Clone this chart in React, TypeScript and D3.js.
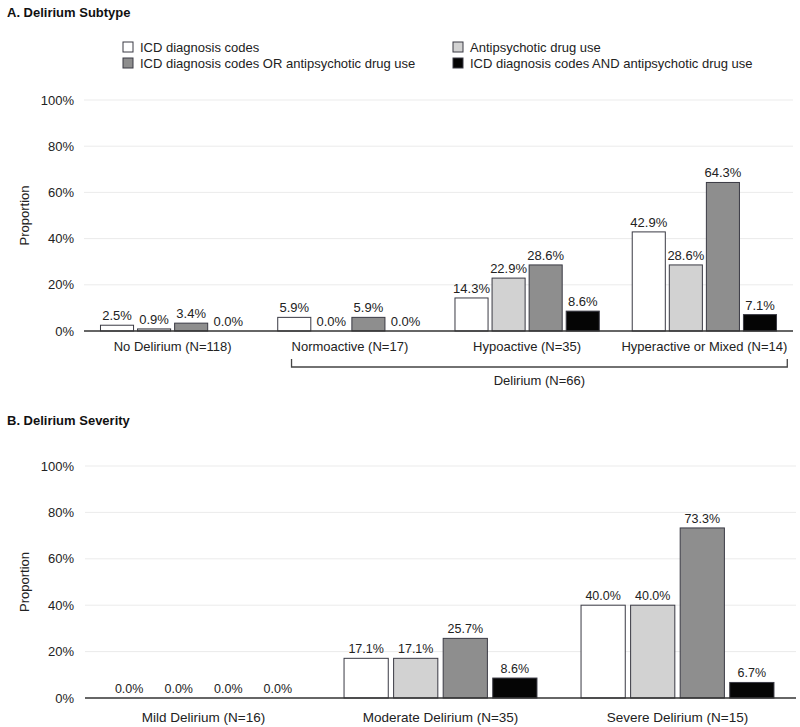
import React, { useEffect, useRef } from "react";
import * as d3 from "d3";

const seriesNames = [
  "ICD diagnosis codes",
  "Antipsychotic drug use",
  "ICD diagnosis codes OR antipsychotic drug use",
  "ICD diagnosis codes AND antipsychotic drug use",
];
const seriesColors = ["#ffffff", "#d2d2d2", "#8e8e8e", "#050505"];

const subtypeCategories = [
  "No Delirium (N=118)",
  "Normoactive (N=17)",
  "Hypoactive (N=35)",
  "Hyperactive or Mixed (N=14)",
];
const subtypeICD = [2.5, 5.9, 14.3, 42.9];
const subtypeAntipsychotic = [0.9, 0.0, 22.9, 28.6];
const subtypeOr = [3.4, 5.9, 28.6, 64.3];
const subtypeAnd = [0.0, 0.0, 8.6, 7.1];

const severityCategories = [
  "Mild Delirium (N=16)",
  "Moderate Delirium (N=35)",
  "Severe Delirium (N=15)",
];
const severityICD = [0.0, 17.1, 40.0];
const severityAntipsychotic = [0.0, 17.1, 40.0];
const severityOr = [0.0, 25.7, 73.3];
const severityAnd = [0.0, 8.6, 6.7];

const yTicks = [0, 20, 40, 60, 80, 100];
const bracketLabel = "Delirium (N=66)";

const FONT = "'Liberation Sans', Arial, Helvetica, sans-serif";

function drawPanel(
  g: d3.Selection<SVGGElement, unknown, null, undefined>,
  opts: {
    title: string;
    titleY: number;
    categories: string[];
    series: number[][];
    y0: number;
    y100: number;
    x0: number;
    x1: number;
    catLabelY: number;
    catFont: number;
    valFont: number;
  }
) {
  const { categories, series } = opts;
  const x = d3.scaleBand<string>().domain(categories).range([opts.x0, opts.x1]).padding(0);
  const y = d3.scaleLinear().domain([0, 100]).range([opts.y0, opts.y100]);

  g.append("text")
    .attr("x", 7)
    .attr("y", opts.titleY)
    .attr("font-family", FONT)
    .attr("font-weight", "bold")
    .attr("font-size", 13)
    .attr("fill", "#111")
    .text(opts.title);

  // gridlines
  g.selectAll(".grid")
    .data(yTicks.filter((t) => t > 0))
    .join("line")
    .attr("x1", opts.x0)
    .attr("x2", opts.x1)
    .attr("y1", (d) => y(d))
    .attr("y2", (d) => y(d))
    .attr("stroke", "#ebebeb")
    .attr("stroke-width", 1);

  g.selectAll(".ytick")
    .data(yTicks)
    .join("text")
    .attr("x", 74)
    .attr("y", (d) => y(d))
    .attr("dy", "0.35em")
    .attr("text-anchor", "end")
    .attr("font-family", FONT)
    .attr("font-size", 13)
    .attr("fill", "#222")
    .text((d) => d + "%");

  g.append("text")
    .attr("transform", `translate(29,${(opts.y0 + opts.y100) / 2}) rotate(-90)`)
    .attr("text-anchor", "middle")
    .attr("font-family", FONT)
    .attr("font-size", 13)
    .attr("fill", "#222")
    .text("Proportion");

  const bw = x.bandwidth();
  const inner = d3
    .scaleBand<number>()
    .domain(d3.range(seriesNames.length))
    .range([bw * 0.093, bw * 0.907])
    .paddingInner(0.108);

  categories.forEach((cat, ci) => {
    const cg = g.append("g").attr("transform", `translate(${x(cat)},0)`);
    series.forEach((vals, si) => {
      const v = vals[ci];
      const bx = inner(si)!;
      if (v > 0) {
        cg.append("rect")
          .attr("x", bx)
          .attr("y", y(v))
          .attr("width", inner.bandwidth())
          .attr("height", opts.y0 - y(v))
          .attr("fill", seriesColors[si])
          .attr("stroke", "#3a3a44")
          .attr("stroke-width", 1);
      }
      cg.append("text")
        .attr("x", bx + inner.bandwidth() / 2)
        .attr("y", y(v) - 5)
        .attr("text-anchor", "middle")
        .attr("font-family", FONT)
        .attr("font-size", opts.valFont)
        .attr("fill", "#222")
        .text(v.toFixed(1) + "%");
    });
    g.append("text")
      .attr("class", "catlabel")
      .attr("x", (x(cat) ?? 0) + bw / 2)
      .attr("y", opts.catLabelY)
      .attr("text-anchor", "middle")
      .attr("font-family", FONT)
      .attr("font-size", opts.catFont)
      .attr("fill", "#222")
      .text(cat);
  });

  g.append("line")
    .attr("x1", opts.x0)
    .attr("x2", opts.x1)
    .attr("y1", opts.y0)
    .attr("y2", opts.y0)
    .attr("stroke", "#333")
    .attr("stroke-width", 1.5);

  return { x, y, g };
}

export default function App() {
  const ref = useRef<SVGSVGElement>(null);
  useEffect(() => {
    const svg = d3.select(ref.current!);
    svg.selectAll("*").remove();

    const ga = svg.append("g");
    drawPanel(ga, {
      title: "A. Delirium Subtype",
      titleY: 17,
      categories: subtypeCategories,
      series: [subtypeICD, subtypeAntipsychotic, subtypeOr, subtypeAnd],
      y0: 331,
      y100: 100,
      x0: 84,
      x1: 793,
      catLabelY: 351,
      catFont: 13,
      valFont: 13,
    });

    // bracket from left of Normoactive label to right of Hyperactive label
    const labels = ga.selectAll<SVGTextElement, unknown>(".catlabel").nodes();
    const left = labels[1].getBBox();
    const right = labels[3].getBBox();
    const bl = left.x;
    const br = right.x + right.width;
    const by = 367;
    ga.append("path")
      .attr("d", `M${bl},${by - 8}V${by}H${br}V${by - 8}`)
      .attr("fill", "none")
      .attr("stroke", "#444")
      .attr("stroke-width", 1.3);
    ga.append("text")
      .attr("x", (bl + br) / 2)
      .attr("y", 385)
      .attr("text-anchor", "middle")
      .attr("font-family", FONT)
      .attr("font-size", 13)
      .attr("fill", "#222")
      .text(bracketLabel);

    // legend
    const legendPos = [
      [123, 47],
      [453, 47],
      [123, 63],
      [453, 63],
    ];
    seriesNames.forEach((name, i) => {
      const [lx, ly] = legendPos[i];
      ga.append("rect")
        .attr("x", lx)
        .attr("y", ly - 5)
        .attr("width", 10)
        .attr("height", 10)
        .attr("fill", seriesColors[i])
        .attr("stroke", "#3a3a44")
        .attr("stroke-width", 1);
      ga.append("text")
        .attr("x", lx + 17)
        .attr("y", ly)
        .attr("dy", "0.35em")
        .attr("font-family", FONT)
        .attr("font-size", 13)
        .attr("fill", "#222")
        .text(name);
    });

    const gb = svg.append("g");
    drawPanel(gb, {
      title: "B. Delirium Severity",
      titleY: 425,
      categories: severityCategories,
      series: [severityICD, severityAntipsychotic, severityOr, severityAnd],
      y0: 698,
      y100: 466,
      x0: 85,
      x1: 796,
      catLabelY: 722,
      catFont: 13.5,
      valFont: 12.5,
    });
  }, []);

  return (
    <svg
      ref={ref}
      width={800}
      height={727}
      style={{ position: "absolute", left: 0, top: 0, background: "#fff", display: "block" }}
    />
  );
}
